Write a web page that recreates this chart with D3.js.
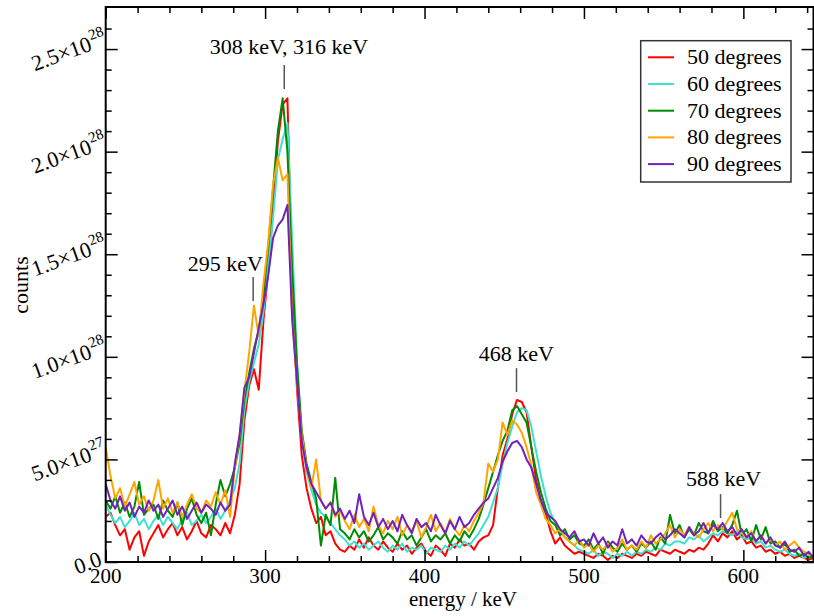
<!DOCTYPE html>
<html>
<head>
<meta charset="utf-8">
<script src="https://cdn.jsdelivr.net/npm/d3@7"></script>
<style>
  html, body { margin: 0; padding: 0; background: #fff; }
  svg { display: block; font-family: 'Liberation Serif', 'Times New Roman', serif; }
</style>
</head>
<body>
<svg id="chart" width="814" height="616"></svg>
<script>
// energy grid, keV (3 keV bins)
const energies = d3.range(200, 645, 3)

// counts in units of 1e27
const deg50 = [
  2.2, 2.4, 1.8, 1.3, 1.6, 0.6, 1.2, 1.5, 0.3, 1.0,
  1.4, 1.8, 1.2, 1.6, 1.9, 1.3, 1.7, 1.1, 1.5, 2.0,
  1.4, 1.2, 1.8, 1.6, 1.3, 1.9, 1.4, 2.3, 3.8, 6.9,
  8.6, 9.4, 8.4, 11.8, 14.2, 17.2, 20.5, 22.3, 22.6, 13.4,
  8.4, 5.2, 3.6, 2.6, 1.9, 2.2, 1.3, 1.5, 0.9, 0.6,
  0.5, 0.8, 0.6, 1.1, 0.7, 1.2, 0.8, 0.6, 1.0, 0.7,
  0.5, 0.9, 0.6, 0.8, 0.4, 0.7, 0.9, 0.5, 0.3, 0.8,
  0.6, 0.3, 0.9, 0.7, 1.1, 0.8, 0.9, 0.6, 1.0, 1.2,
  1.3, 1.8, 3.6, 5.2, 6.0, 7.2, 7.9, 7.8, 7.3, 5.6,
  4.0, 3.0, 2.4, 1.5, 0.9, 1.2, 0.8, 0.6, 0.4, 0.5,
  0.4, 0.3, 0.2, 0.4, 0.3, 0.1, 0.3, 0.2, 0.4, 0.3,
  0.2, 0.4, 0.3, 0.5, 0.4, 0.3, 0.6, 0.5, 0.4, 0.6,
  0.5, 0.4, 0.6, 0.5, 0.7, 0.6, 0.9, 1.3, 1.0, 1.4,
  1.2, 1.5, 1.1, 1.3, 0.9, 1.0, 0.7, 0.8, 0.5, 0.6,
  0.4, 0.5, 0.3, 0.4, 0.2, 0.3, 0.2, 0.1, 0.2
]
const deg60 = [
  2.8, 2.3, 1.9, 2.2, 1.7, 2.0, 2.4, 1.8, 2.1, 1.6,
  2.0, 2.3, 1.8, 2.2, 1.9, 1.6, 2.1, 2.4, 1.8, 2.0,
  2.3, 1.9, 2.2, 2.6, 2.1, 2.5, 3.0, 3.6, 4.8, 7.4,
  8.8, 9.7, 10.6, 12.2, 14.4, 16.8, 19.6, 20.6, 21.4, 15.6,
  9.8, 6.0, 4.4, 3.5, 2.8, 2.4, 2.2, 1.9, 1.6, 1.3,
  1.1, 0.8, 1.0, 0.7, 0.9, 0.6, 0.8, 1.0, 0.7, 0.5,
  0.8, 0.6, 0.9, 0.5, 0.7, 0.6, 0.8, 0.4, 0.7, 0.6,
  0.5, 0.8, 0.6, 0.9, 0.7, 1.0, 0.8, 1.1, 1.4, 1.8,
  2.2, 2.9, 3.6, 4.8, 5.8, 6.6, 7.3, 7.5, 7.4, 6.6,
  5.4, 4.2, 3.2, 2.4, 1.9, 1.5, 1.2, 1.0, 0.8, 0.6,
  0.5, 0.4, 0.6, 0.3, 0.5, 0.4, 0.2, 0.4, 0.3, 0.5,
  0.3, 0.5, 0.4, 0.6, 0.5, 0.7, 0.6, 0.9, 0.8, 1.0,
  1.0, 0.9, 1.2, 1.1, 1.3, 1.0, 1.2, 1.4, 1.3, 1.5,
  1.4, 1.3, 1.5, 1.2, 1.1, 1.2, 0.9, 1.0, 0.7, 0.8,
  0.6, 0.5, 0.6, 0.4, 0.3, 0.4, 0.2, 0.3, 0.2
]
const deg70 = [
  3.0, 2.6, 3.2, 2.4, 2.9, 2.2, 2.7, 3.9, 2.3, 2.6,
  2.8, 2.1, 3.0, 2.5, 2.2, 2.9, 1.8, 2.6, 3.1, 2.3,
  1.9, 2.4, 1.3, 2.8, 4.0, 3.2, 3.8, 4.6, 5.8, 7.9,
  9.2, 10.4, 11.3, 13.0, 15.4, 18.2, 21.0, 22.6, 20.0, 14.2,
  9.6, 6.4, 4.8, 3.9, 3.1, 0.8, 2.3, 1.8, 4.1, 1.6,
  1.4, 1.1, 1.6, 1.2, 1.5, 1.0, 1.3, 1.7, 1.1, 1.4,
  1.2, 0.9, 1.5, 1.1, 1.3, 0.8, 1.2, 1.6, 1.0, 1.3,
  1.1, 1.4, 0.9, 1.3, 1.0, 1.5, 1.2, 1.6, 2.1, 2.8,
  3.6, 4.4, 5.2, 5.9, 6.4, 7.4, 7.6, 7.2, 6.8, 5.6,
  4.4, 3.4, 2.6, 2.0, 1.8, 1.3, 1.6, 1.1, 1.3, 0.9,
  0.8, 1.1, 0.6, 0.9, 0.4, 1.0, 0.7, 0.5, 0.9, 0.6,
  0.8, 0.5, 0.9, 0.7, 1.0, 0.6, 1.2, 0.9, 2.3, 1.4,
  1.8, 1.2, 1.6, 1.3, 1.9, 1.5, 1.4, 2.0, 1.5, 1.7,
  1.4, 1.8, 2.5, 1.3, 1.6, 1.0, 1.8, 1.1, 1.7, 0.9,
  1.0, 0.7, 0.9, 0.5, 0.6, 0.3, 0.4, 0.2, 0.3
]
const deg80 = [
  5.6, 4.2, 3.1, 3.6, 2.7, 3.3, 3.9, 2.8, 3.2, 2.5,
  3.0, 4.0, 2.6, 3.1, 2.4, 2.9, 2.2, 2.8, 3.3, 2.6,
  2.4, 3.0, 2.7, 3.4, 2.8, 3.5, 2.2, 4.6, 6.2, 8.3,
  10.2, 12.5, 11.0, 13.6, 15.6, 18.4, 19.7, 18.6, 18.9, 12.0,
  8.6, 6.2, 4.6, 3.6, 5.0, 3.0, 2.6, 2.9, 2.2, 2.5,
  2.0, 1.6, 2.3, 1.7, 2.1, 1.5, 2.7, 1.8, 1.4, 2.0,
  1.6, 2.2, 1.3, 1.8, 1.5, 2.0, 1.2, 1.7, 2.3, 1.5,
  1.9, 1.4, 2.1, 1.6, 1.3, 1.8, 1.5, 2.0, 2.4, 2.9,
  4.8, 4.4, 5.0, 6.8, 6.2, 6.9, 6.7, 6.3, 5.6, 4.7,
  3.4, 2.8, 2.1, 1.8, 1.4, 1.6, 1.2, 1.0, 0.8, 1.1,
  0.7, 0.9, 0.5, 0.8, 0.6, 0.9, 0.5, 0.7, 1.1, 0.6,
  0.8, 0.6, 1.0, 0.7, 1.3, 0.9, 1.1, 1.4, 1.8, 1.2,
  1.6, 1.3, 1.7, 1.4, 1.2, 1.6, 1.9, 1.5, 1.8, 1.6,
  2.0, 2.4, 1.6, 1.4, 1.2, 1.5, 1.0, 1.3, 0.9, 1.1,
  0.8, 1.0, 0.6, 0.8, 1.0, 0.7, 0.5, 0.4, 0.3
]
const deg90 = [
  3.8, 3.0, 2.6, 3.2, 2.5, 2.9, 2.2, 2.7, 2.4, 3.0,
  2.5, 2.8, 2.2, 2.6, 3.0, 2.3, 2.7, 2.1, 2.5, 2.9,
  2.4, 2.8, 2.6, 2.3, 2.9, 2.5, 2.8, 4.8, 6.2, 8.5,
  9.0, 10.2, 11.4, 12.6, 14.0, 15.8, 16.4, 16.7, 17.4, 11.8,
  8.8, 5.9, 4.6, 3.8, 3.4, 3.0, 2.6, 2.9, 2.3, 2.6,
  2.1, 2.5, 1.9, 3.3, 2.2, 1.8, 2.4, 1.7, 2.1, 1.6,
  2.0, 1.5, 2.3, 1.8, 1.4, 2.1, 1.7, 1.9, 1.5, 2.3,
  1.8, 1.4, 2.0, 1.6, 2.2, 1.7, 1.9, 2.3, 2.6, 2.9,
  3.1, 3.6, 4.1, 4.9, 5.4, 5.8, 5.9, 5.6, 5.0, 4.6,
  3.8, 3.0, 2.4, 2.2, 2.0, 1.6, 1.4, 1.2, 1.5, 1.0,
  1.1, 0.8, 1.4, 0.9, 1.2, 0.7, 1.0, 0.8, 1.6, 0.9,
  1.1, 0.8, 1.3, 1.0, 0.9, 1.2, 1.4, 1.1, 1.3, 1.6,
  1.4, 1.2, 1.7, 1.3, 1.5, 1.9, 1.4, 1.8, 1.6, 1.9,
  1.5, 1.7, 1.3, 1.6, 1.2, 1.4, 1.0, 1.3, 0.9, 1.2,
  0.8, 0.7, 1.0, 0.6, 0.5, 0.7, 0.3, 0.5, 0.2
]

const seriesNames = ['50 degrees', '60 degrees', '70 degrees', '80 degrees', '90 degrees']
const seriesValues = [deg50, deg60, deg70, deg80, deg90]
const seriesColors = ['#ff0000', '#40e0d0', '#008b00', '#ffa500', '#7221bc']

const xTickValues = [200, 300, 400, 500, 600]
const yTickValues = [0, 5, 10, 15, 20, 25]
const yTickMantissa = ['0.0', '5.0', '1.0', '1.5', '2.0', '2.5']
const yTickExponent = ['', '27', '28', '28', '28', '28']

// peak annotations: marker energy, marker bottom (1e27), label centre energy, label baseline (1e27)
const annotText = ['308 keV, 316 keV', '295 keV', '468 keV', '588 keV']
const annotEnergy = [312, 292.5, 457.7, 585.7]
const annotBottom = [23.05, 12.72, 8.28, 2.14]
const annotLabelEnergy = [315, 275.1, 457.6, 587.6]
const annotLabelY = [24.76, 14.18, 9.8, 3.7]

const plot = { left: 105.7, right: 813.5, top: 7, bottom: 562 }

const svg = d3.select('#chart')

const x = d3.scaleLinear().domain([200, 644]).range([plot.left, plot.right])
const y = d3.scaleLinear().domain([0, 27.05]).range([plot.bottom, plot.top])

svg.append('defs').append('clipPath').attr('id', 'plot-clip')
  .append('rect')
  .attr('x', plot.left).attr('y', plot.top)
  .attr('width', plot.right - plot.left).attr('height', plot.bottom - plot.top)

// series
const line = d3.line().x((d, i) => x(energies[i])).y(d => y(d))
svg.append('g').attr('clip-path', 'url(#plot-clip)')
  .selectAll('path')
  .data(seriesValues)
  .enter()
  .append('path')
  .attr('d', d => line(d))
  .attr('fill', 'none')
  .attr('stroke', (d, i) => seriesColors[i])
  .attr('stroke-width', 2)
  .attr('stroke-linejoin', 'round')

// ticks on all four sides, pointing inward
const xMinor = d3.range(220, 644, 20).filter(v => v % 100 !== 0)
const yMinor = d3.range(1, 27, 1).filter(v => v % 5 !== 0)

const drawTicks = (axis, transform) => {
  const g = svg.append('g').attr('transform', transform).call(axis)
  g.select('.domain').remove()
  g.selectAll('.tick line').attr('stroke', '#000').attr('stroke-width', 1.5)
  g.selectAll('.tick text').remove()
}

drawTicks(d3.axisBottom(x).tickValues(xTickValues).tickSize(-12), `translate(0,${plot.bottom})`)
drawTicks(d3.axisBottom(x).tickValues(xMinor).tickSize(-6), `translate(0,${plot.bottom})`)
drawTicks(d3.axisTop(x).tickValues(xTickValues).tickSize(-12), `translate(0,${plot.top})`)
drawTicks(d3.axisTop(x).tickValues(xMinor).tickSize(-6), `translate(0,${plot.top})`)
drawTicks(d3.axisLeft(y).tickValues(yTickValues).tickSize(-12), `translate(${plot.left},0)`)
drawTicks(d3.axisLeft(y).tickValues(yMinor).tickSize(-6), `translate(${plot.left},0)`)
drawTicks(d3.axisRight(y).tickValues(yTickValues).tickSize(-12), `translate(${plot.right},0)`)
drawTicks(d3.axisRight(y).tickValues(yMinor).tickSize(-6), `translate(${plot.right},0)`)

svg.append('rect')
  .attr('x', plot.left).attr('y', plot.top)
  .attr('width', plot.right - plot.left).attr('height', plot.bottom - plot.top)
  .attr('fill', 'none').attr('stroke', '#000').attr('stroke-width', 2)

// x tick labels
svg.append('g')
  .selectAll('text')
  .data(xTickValues)
  .enter()
  .append('text')
  .attr('x', d => x(d))
  .attr('y', 583)
  .attr('text-anchor', 'middle')
  .attr('font-size', 21)
  .text(d => d)

// y tick labels, slanted, with powers of ten
yTickValues.forEach((v, i) => {
  const hasExp = yTickExponent[i] !== ''
  const g = svg.append('g')
    .attr('transform', `translate(${hasExp ? 93 : 103},${y(v) + (hasExp ? 1 : 3)}) rotate(-20)`)
  g.append('text')
    .attr('text-anchor', 'end')
    .attr('font-size', 22)
    .text(hasExp ? `${yTickMantissa[i]}\u00d710` : yTickMantissa[i])
  if (hasExp) {
    g.append('text')
      .attr('x', 1)
      .attr('y', -10)
      .attr('font-size', 15)
      .text(yTickExponent[i])
  }
})

// axis titles
svg.append('text')
  .attr('x', 463).attr('y', 606)
  .attr('text-anchor', 'middle')
  .attr('font-size', 21)
  .text('energy / keV')

svg.append('text')
  .attr('transform', 'translate(28,285) rotate(-90)')
  .attr('text-anchor', 'middle')
  .attr('font-size', 22)
  .text('counts')

// peak annotations
annotText.forEach((label, i) => {
  svg.append('line')
    .attr('x1', x(annotEnergy[i])).attr('x2', x(annotEnergy[i]))
    .attr('y1', y(annotBottom[i])).attr('y2', y(annotBottom[i]) - 24)
    .attr('stroke', '#555').attr('stroke-width', 1.5)
  svg.append('text')
    .attr('x', x(annotLabelEnergy[i]))
    .attr('y', y(annotLabelY[i]))
    .attr('text-anchor', 'middle')
    .attr('font-size', 22)
    .text(label)
})

// legend
const legend = svg.append('g').attr('id', 'legend')
legend.append('rect')
  .attr('x', 640.7).attr('y', 40.7)
  .attr('width', 150.3).attr('height', 141.3)
  .attr('fill', '#fff').attr('stroke', '#333').attr('stroke-width', 1.5)

seriesNames.forEach((name, i) => {
  const cy = 57.3 + i * 26.7
  legend.append('line')
    .attr('x1', 648).attr('x2', 674)
    .attr('y1', cy).attr('y2', cy)
    .attr('stroke', seriesColors[i]).attr('stroke-width', 2)
  legend.append('text')
    .attr('x', 687).attr('y', cy + 7)
    .attr('font-size', 22)
    .text(name)
})
</script>
</body>
</html>
